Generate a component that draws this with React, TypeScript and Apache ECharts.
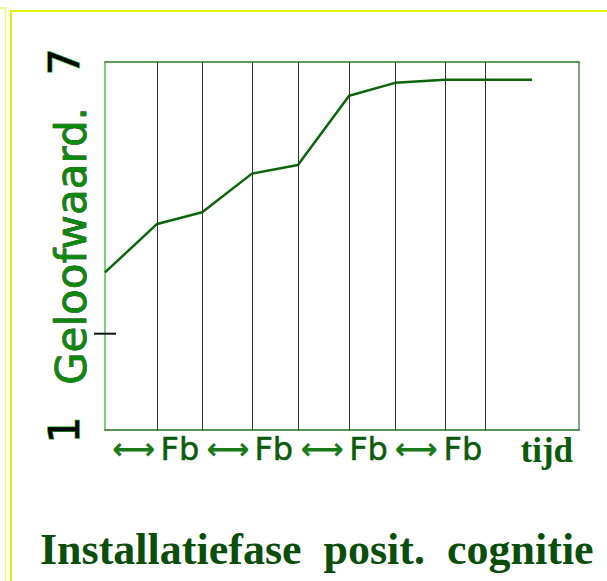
import React, { useEffect, useRef } from "react";
import * as echarts from "echarts";

// time positions (x) of the belief curve and its values (y: 1..7)
const timePoints = [0, 1.1, 2.05, 3.1, 4.07, 5.15, 6.12, 7.17, 8.02, 9.01];
const beliefValues = [3.57, 4.36, 4.55, 5.18, 5.32, 6.45, 6.66, 6.71, 6.71, 6.71];
// feedback moments (vertical lines)
const feedbackMoments = [1.1, 2.05, 3.1, 4.07, 5.15, 6.12, 7.17, 8.02];
// x-axis label positions and texts
const xLabelPositions = [0.6, 1.58, 2.59, 3.56, 4.58, 5.56, 6.56, 7.55, 9.32];
const xLabelTexts = ["⟷", "Fb", "⟷", "Fb", "⟷", "Fb", "⟷", "Fb", "tijd"];
// y-axis
const yMin = 1;
const yMax = 7;
const yLabelValues = [1, 7];
const midMarkValue = 2.57;
const yAxisName = "Geloofwaard.";
const titleText = "Installatiefase  posit.  cognitie";

export default function App() {
  const ref = useRef<HTMLDivElement>(null);
  useEffect(() => {
    document.body.style.margin = "0";
    const chart = echarts.init(ref.current!, null, { renderer: "svg" });
    const nearestIndex = (v: number) => {
      let best = 0;
      xLabelPositions.forEach((p, i) => {
        if (Math.abs(p - v) < Math.abs(xLabelPositions[best] - v)) best = i;
      });
      return best;
    };
    chart.setOption({
      animation: false,
      backgroundColor: "#ffffff",
      title: {
        text: titleText,
        left: 40,
        top: 527,
        padding: 0,
        textStyle: {
          fontFamily: "Liberation Serif",
          fontWeight: "bold",
          fontSize: 44,
          color: "#0b4d0b",
        },
      },
      grid: {
        left: 105,
        top: 62,
        width: 474,
        height: 368,
        show: false,
        containLabel: false,
        outerBoundsMode: "none",
      },
      xAxis: [
        {
          type: "value",
          min: 0,
          max: 10,
          position: "bottom",
          axisLine: { show: true, onZero: false, lineStyle: { color: "#1f6f1f", width: 1.5 } },
          axisTick: { show: false },
          splitLine: { show: false },
          axisLabel: {
            customValues: xLabelPositions,
            margin: 3,
            formatter: (v: number) => {
              const t = xLabelTexts[nearestIndex(v)];
              if (t === "Fb") return "{f|Fb}";
              if (t === "tijd") return "{t|tijd}";
              return "{a|" + t + "}";
            },
            rich: {
              a: { fontSize: 30, color: "#1a7a1a", fontFamily: "DejaVu Sans", fontWeight: "bold" },
              f: { fontSize: 32, color: "#0d5a0d", fontFamily: "DejaVu Sans", textBorderColor: "#0d5a0d", textBorderWidth: 0.5 },
              t: { fontSize: 35, color: "#0d5a0d", fontFamily: "Liberation Serif", fontWeight: "bold" },
            },
          },
        },
        {
          type: "value",
          min: 0,
          max: 10,
          position: "top",
          axisLine: { show: true, onZero: false, lineStyle: { color: "#2a7a2a", width: 1.5 } },
          axisTick: { show: false },
          axisLabel: { show: false },
          splitLine: { show: false },
        },
      ],
      yAxis: [
        {
          type: "value",
          min: yMin,
          max: yMax,
          position: "left",
          axisLine: { show: true, onZero: false, lineStyle: { color: "#7fcf7f", width: 2 } },
          axisTick: { show: false },
          splitLine: { show: false },
          axisLabel: {
            rotate: 90,
            fontSize: 42,
            fontFamily: "DejaVu Sans",
            color: "#000000",
            textBorderColor: "#1f9f1f",
            textBorderWidth: 1.5,
            margin: 20,
            formatter: (v: number) => (yLabelValues.includes(v) ? String(v) : ""),
          },
          name: yAxisName,
          nameLocation: "middle",
          nameRotate: 90,
          nameGap: 13,
          nameMoveOverlap: false,
          nameTextStyle: {
            fontSize: 42,
            fontFamily: "DejaVu Sans",
            color: "#0a8a0a",
            textBorderColor: "#000000",
            textBorderWidth: 0.6,
          },
        },
        {
          type: "value",
          min: yMin,
          max: yMax,
          position: "right",
          axisLine: { show: true, onZero: false, lineStyle: { color: "#80a880", width: 2 } },
          axisTick: { show: false },
          axisLabel: { show: false },
          splitLine: { show: false },
        },
      ],
      series: [
        {
          type: "line",
          xAxisIndex: 0,
          yAxisIndex: 0,
          data: timePoints.map((x, i) => [x, beliefValues[i]]),
          symbol: "none",
          lineStyle: { color: "#0b650b", width: 2.5 },
          z: 3,
          markLine: {
            silent: true,
            symbol: ["none", "none"],
            label: { show: false },
            lineStyle: { color: "#333333", width: 1, type: "solid" },
            data: feedbackMoments.map((x) => ({ xAxis: x })),
          },
        },
        {
          type: "custom",
          xAxisIndex: 0,
          yAxisIndex: 0,
          clip: false,
          data: [[0, midMarkValue]],
          renderItem: (params: any, api: any) => {
            const p = api.coord([api.value(0), api.value(1)]);
            return {
              type: "line",
              shape: { x1: p[0] - 11, y1: p[1], x2: p[0] + 11, y2: p[1] },
              style: { stroke: "#111111", lineWidth: 2 },
            };
          },
        },
      ],
      graphic: [
        {
          type: "polyline",
          shape: { points: [[0, 8], [5.5, 8], [5.5, 581]] },
          style: { stroke: "#eef57a", lineWidth: 1.5, fill: "none" },
        },
        {
          type: "polyline",
          shape: { points: [[11, 581], [11, 11], [607, 11]] },
          style: { stroke: "#e2f200", lineWidth: 2, fill: "none" },
        },
      ],
    });
    return () => chart.dispose();
  }, []);
  return <div ref={ref} style={{ width: 607, height: 581 }} />;
}
